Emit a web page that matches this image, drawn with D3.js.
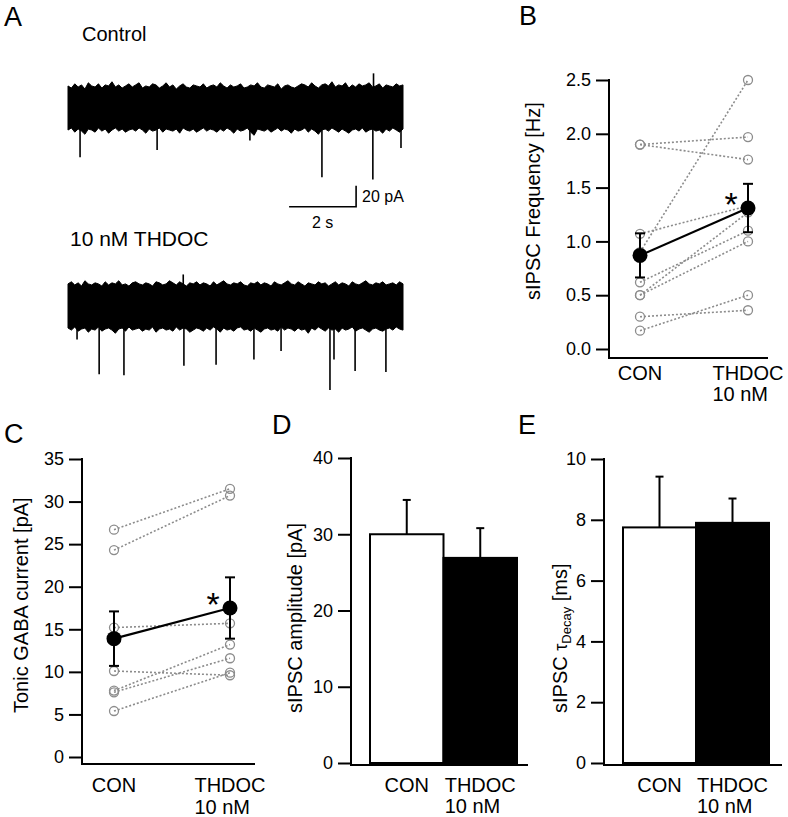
<!DOCTYPE html>
<html><head><meta charset="utf-8">
<script src="https://cdn.jsdelivr.net/npm/d3@7"></script>
<style>body{margin:0;background:#fff} svg{display:block} text{font-family:Arial,"Liberation Sans",Helvetica,sans-serif;fill:#000}</style>
</head><body><svg id="c" width="788" height="817"></svg>
<script>
// ---------------- DATA ----------------
const conditions = ["CON", "THDOC"];
const conditionSub = ["", "10 nM"];

// Panel A: traces (pA), envelope samples evenly spaced over 10 s
const ctrlTop = [21,19,23,20,22,18,24,21,20,23,19,22,21,25,20,22,19,21,23,20,
  22,24,19,21,20,23,22,19,21,24,20,22,18,21,23,20,19,22,21,20,
  23,19,21,22,20,24,21,19,22,20,21,23,19,20,22,21,24,20,19,22,
  21,20,23,18,21,22,20,19,21,23,22,20,24,21,19,22,23,21,25,20,
  22,21,24,19,22,20,23,21,22,24,20,21,23,19,22,21,20,23,21,22];
const ctrlBot = [-21,-19,-23,-20,-22,-25,-20,-21,-23,-19,-22,-20,-24,-21,-19,-22,-20,-23,-21,-20,
  -22,-19,-21,-24,-20,-22,-21,-19,-23,-20,-21,-22,-20,-24,-19,-21,-22,-20,-23,-21,
  -19,-22,-20,-21,-23,-20,-22,-19,-21,-24,-20,-22,-21,-19,-23,-26,-20,-21,-22,-20,
  -23,-21,-19,-22,-20,-21,-24,-20,-22,-21,-19,-23,-20,-22,-25,-21,-20,-22,-19,-21,
  -23,-20,-22,-24,-21,-20,-22,-19,-23,-21,-20,-22,-21,-24,-20,-22,-19,-21,-23,-20];
const ctrlEventsT = [0.36, 2.66, 5.43, 7.58, 9.10, 9.94, 9.12];
const ctrlEventsA = [-47, -40, -31, -66, -68, -38, 33];
const thdTop = [22,24,21,23,20,25,22,21,23,22,20,24,21,23,22,25,21,22,20,23,
  24,22,21,23,22,20,24,23,21,22,25,23,21,24,22,20,23,22,24,21,
  23,22,20,24,21,23,25,22,21,23,22,24,21,20,23,22,24,21,23,22,
  20,24,22,21,23,25,22,21,24,22,20,23,22,21,24,22,23,20,22,24,
  21,23,22,20,24,22,21,23,25,22,21,23,22,24,21,22,23,21,24,22];
const thdBot = [-20,-22,-19,-23,-21,-20,-24,-21,-22,-19,-23,-21,-20,-22,-25,-21,-20,-23,-19,-22,
  -21,-20,-23,-21,-22,-19,-24,-21,-20,-22,-21,-23,-19,-22,-20,-21,-24,-22,-20,-21,
  -23,-20,-22,-19,-21,-24,-20,-22,-21,-23,-20,-19,-22,-21,-23,-20,-22,-24,-21,-20,
  -22,-21,-23,-19,-22,-20,-21,-23,-20,-22,-21,-25,-20,-22,-19,-21,-23,-20,-22,-21,
  -24,-20,-22,-21,-19,-23,-21,-20,-22,-24,-21,-20,-22,-23,-21,-20,-22,-19,-21,-22];
const thdEventsT = [0.27, 0.93, 1.67, 3.46, 4.42, 5.55, 6.36, 7.82, 7.94, 8.57, 9.49, 3.44];
const thdEventsA = [-31, -64, -65, -56, -55, -50, -42, -79, -50, -61, -62, 31];
const scaleBarTime = 2;   // s
const scaleBarCurrent = 20; // pA

// Panel B: sIPSC frequency (Hz), paired cells
const freqCON   = [1.90, 1.90, 1.07, 0.90, 0.62, 0.50, 0.50, 0.30, 0.17];
const freqTHDOC = [1.97, 1.76, 1.33, 2.50, 1.10, 1.27, 1.00, 0.36, 0.50];
const freqMean = [0.87, 1.31];
const freqSEM  = [0.205, 0.225];
const freqTicks = [0, 0.5, 1.0, 1.5, 2.0, 2.5];

// Panel C: tonic GABA current (pA)
const tonicCON   = [26.7, 24.3, 15.2, 10.1, 7.8, 7.6, 5.4];
const tonicTHDOC = [31.5, 30.7, 15.7, 9.6, 13.2, 11.6, 9.9];
const tonicMean = [13.9, 17.5];
const tonicSEM  = [3.2, 3.6];
const tonicTicks = [0, 5, 10, 15, 20, 25, 30, 35];

// Panel D: sIPSC amplitude (pA)
const ampMean = [30.0, 26.9];
const ampSEM  = [4.5, 3.9];
const ampTicks = [0, 10, 20, 30, 40];

// Panel E: sIPSC decay tau (ms)
const decayMean = [7.75, 7.9];
const decaySEM  = [1.67, 0.8];
const decayTicks = [0, 2, 4, 6, 8, 10];

// ---------------- DRAWING ----------------
const svg = d3.select("#c");
const GRAY = "#8c8c8c";
const TICK_FS = 18, TITLE_FS = 20, CAT_FS = 20;

function panelLabel(txt, x, y) {
  svg.append("text").attr("x", x).attr("y", y).attr("font-size", 27).text(txt);
}

function yAxis(x, y, ticks, fmt, bottomY) {
  const ax = d3.axisLeft(y).tickValues(ticks).tickFormat(fmt).tickSize(13).tickPadding(5).tickSizeOuter(0);
  const g = svg.append("g").attr("transform", `translate(${x},0)`).call(ax);
  g.select(".domain").remove();
  g.selectAll(".tick line").attr("stroke", "#000").attr("stroke-width", 2);
  g.selectAll(".tick text").attr("font-size", TICK_FS).attr("font-family", 'Arial,"Liberation Sans",sans-serif').attr("fill", "#000");
  svg.append("line").attr("x1", x).attr("x2", x)
    .attr("y1", y(ticks[ticks.length - 1]) - 1).attr("y2", bottomY)
    .attr("stroke", "#000").attr("stroke-width", 2);
}
function xAxisLine(x0, x1, yy) {
  svg.append("line").attr("x1", x0 - 1).attr("x2", x1).attr("y1", yy).attr("y2", yy)
    .attr("stroke", "#000").attr("stroke-width", 2);
}
function yTitle(x, yStart, txt) {
  return svg.append("text").attr("transform", `translate(${x},${yStart}) rotate(-90)`)
    .attr("text-anchor", "start").attr("font-size", TITLE_FS).text(txt);
}
function catLabels(xs, baseY, gap) {
  conditions.forEach((c, i) => {
    const t = svg.append("text").attr("x", xs[i]).attr("y", baseY).attr("text-anchor", "middle")
      .attr("font-size", CAT_FS).text(c);
    if (conditionSub[i]) {
      const w = t.node().getComputedTextLength();
      svg.append("text").attr("x", xs[i] - w / 2).attr("y", baseY + gap).attr("font-size", CAT_FS).text(conditionSub[i]);
    }
  });
}

// ---- Panel A ----
panelLabel("A", 4, 26);
svg.append("text").attr("x", 82).attr("y", 41).attr("font-size", 20).text("Control");
svg.append("text").attr("x", 70).attr("y", 246).attr("font-size", 21).text("10 nM THDOC");

const xA = d3.scaleLinear().domain([0, 10]).range([68, 403]);
function trace(center, top, bot, evT, evA) {
  const y = d3.scaleLinear().domain([-20, 20]).range([center + 21, center - 21]);
  const n = top.length;
  const tt = d3.range(n).map(i => i * 10 / (n - 1));
  const area = d3.area().x((d, i) => xA(tt[i])).y0((d, i) => y(bot[i])).y1(d => y(d)).curve(d3.curveLinear);
  svg.append("path").datum(top).attr("d", area).attr("fill", "#000").attr("stroke", "#000").attr("stroke-width", 1);
  evT.forEach((t, i) => {
    const a = evA[i];
    svg.append("line").attr("x1", xA(t)).attr("x2", xA(t))
      .attr("y1", y(a < 0 ? -18 : 18)).attr("y2", y(a))
      .attr("stroke", "#000").attr("stroke-width", 1.6);
  });
  return y;
}
const yCtl = trace(108, ctrlTop, ctrlBot, ctrlEventsT, ctrlEventsA);
trace(307, thdTop, thdBot, thdEventsT, thdEventsA);

// scale bar
{
  const t1 = 8.6, t0 = t1 - scaleBarTime;
  const yb = yCtl(-94);
  const yt = yb - (yCtl(0) - yCtl(scaleBarCurrent));
  svg.append("path").attr("d", `M${xA(t0)},${yb}H${xA(t1)}V${yt}`)
    .attr("fill", "none").attr("stroke", "#000").attr("stroke-width", 1.6);
  svg.append("text").attr("x", xA(t1) + 6).attr("y", (yb + yt) / 2 + 6).attr("font-size", 16).text(scaleBarCurrent + " pA");
  svg.append("text").attr("x", (xA(t0) + xA(t1)) / 2).attr("y", yb + 21).attr("text-anchor", "middle").attr("font-size", 16).text(scaleBarTime + " s");
}

// ---- paired panels ----
function pairedPanel(o) {
  const x = d3.scalePoint().domain(conditions).range(o.xr);
  const y = d3.scaleLinear().domain(o.dom).range(o.yr);
  yAxis(o.ax, y, o.ticks, o.fmt, o.bottom);
  xAxisLine(o.ax, o.xEnd, o.bottom);
  const g = svg.append("g");
  o.a.forEach((v, i) => {
    g.append("line").attr("x1", x("CON")).attr("y1", y(v)).attr("x2", x("THDOC")).attr("y2", y(o.b[i]))
      .attr("stroke", GRAY).attr("stroke-width", 1.6).attr("stroke-dasharray", "2,2");
  });
  [o.a, o.b].forEach((arr, k) => arr.forEach(v => {
    g.append("circle").attr("cx", x(conditions[k])).attr("cy", y(v)).attr("r", 4.5)
      .attr("fill", "none").attr("stroke", GRAY).attr("stroke-width", 1.3);
  }));
  g.append("line").attr("x1", x("CON")).attr("y1", y(o.mean[0])).attr("x2", x("THDOC")).attr("y2", y(o.mean[1]))
    .attr("stroke", "#000").attr("stroke-width", 2.2);
  o.mean.forEach((m, i) => {
    const cx = x(conditions[i]);
    const lo = y(m - o.sem[i]), hi = y(m + o.sem[i]);
    g.append("line").attr("x1", cx).attr("x2", cx).attr("y1", lo).attr("y2", hi).attr("stroke", "#000").attr("stroke-width", 2);
    [lo, hi].forEach(yy => g.append("line").attr("x1", cx - 5).attr("x2", cx + 5).attr("y1", yy).attr("y2", yy)
      .attr("stroke", "#000").attr("stroke-width", 2));
    g.append("circle").attr("cx", cx).attr("cy", y(m)).attr("r", 7.5).attr("fill", "#000");
  });
  svg.append("text").attr("x", x("THDOC") - 17).attr("y", y(o.mean[1]) + 8).attr("text-anchor", "middle")
    .attr("font-size", 34).text("*");
  return { x, y };
}

// Panel B
panelLabel("B", 519, 25);
pairedPanel({ xr: [640, 748], dom: [0, 2.5], yr: [349, 80], ax: 609, bottom: 358, xEnd: 768,
  ticks: freqTicks, fmt: d3.format(".1f"), a: freqCON, b: freqTHDOC, mean: freqMean, sem: freqSEM });
yTitle(540, 300, "sIPSC Frequency [Hz]");
catLabels([640, 748], 380, 21);

// Panel C
panelLabel("C", 4, 443);
pairedPanel({ xr: [114, 230], dom: [0, 35], yr: [757, 459], ax: 82, bottom: 764, xEnd: 255,
  ticks: tonicTicks, fmt: d3.format("d"), a: tonicCON, b: tonicTHDOC, mean: tonicMean, sem: tonicSEM });
yTitle(28, 713, "Tonic GABA current [pA]");
catLabels([114, 230], 792, 22);

// ---- bar panels ----
function barPanel(o) {
  const x = d3.scaleBand().domain(conditions).range(o.xr).padding(0);
  const y = d3.scaleLinear().domain(o.dom).range(o.yr);
  yAxis(o.ax, y, o.ticks, d3.format("d"), o.bottom);
  xAxisLine(o.ax, o.xEnd, o.bottom);
  o.mean.forEach((m, i) => {
    const cx = x(conditions[i]) + x.bandwidth() / 2;
    svg.append("line").attr("x1", cx).attr("x2", cx).attr("y1", y(m)).attr("y2", y(m + o.sem[i]))
      .attr("stroke", "#000").attr("stroke-width", 2);
    svg.append("line").attr("x1", cx - 4).attr("x2", cx + 4).attr("y1", y(m + o.sem[i])).attr("y2", y(m + o.sem[i]))
      .attr("stroke", "#000").attr("stroke-width", 2);
  });
  o.mean.forEach((m, i) => {
    svg.append("rect").attr("x", x(conditions[i])).attr("y", y(m)).attr("width", x.bandwidth())
      .attr("height", y(0) - y(m)).attr("fill", i === 0 ? "#fff" : "#000")
      .attr("stroke", "#000").attr("stroke-width", 2);
  });
  catLabels(conditions.map(c => x(c) + x.bandwidth() / 2), 792, 21);
}

// Panel D
panelLabel("D", 272, 434);
barPanel({ xr: [370, 517], dom: [0, 40], yr: [763, 458], ax: 351, bottom: 765, xEnd: 528,
  ticks: ampTicks, mean: ampMean, sem: ampSEM });
yTitle(302, 713, "sIPSC amplitude [pA]");

// Panel E
panelLabel("E", 518, 434);
barPanel({ xr: [623, 769], dom: [0, 10], yr: [763, 459], ax: 604, bottom: 765, xEnd: 782,
  ticks: decayTicks, mean: decayMean, sem: decaySEM });
{
  const t = svg.append("text").attr("transform", "translate(567,713) rotate(-90)")
    .attr("text-anchor", "start").attr("font-size", TITLE_FS);
  t.append("tspan").text("sIPSC ");
  t.append("tspan").attr("font-size", 18).text("τ");
  t.append("tspan").attr("font-size", 13).attr("dy", 4).text("Decay");
  t.append("tspan").attr("dy", -4).text(" [ms]");
}
</script>
</body></html>
